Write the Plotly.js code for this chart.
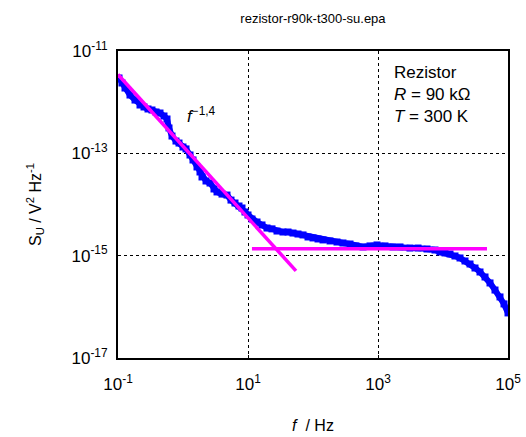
<!DOCTYPE html>
<html>
<head>
<meta charset="utf-8">
<script src="https://cdn.plot.ly/plotly-3.0.1.min.js"></script>
<style>html,body{margin:0;padding:0;background:#fff;}#chart{width:526px;height:437px;}</style>
</head>
<body>
<div id="chart"></div>
<script>
// Measured noise spectrum (frequency in Hz, S_U in V^2/Hz)
const freq = [0.1036,0.1152,0.1281,0.1530,0.1827,0.2181,0.2512,0.2894,0.3334,0.3842,
  0.4427,0.5101,0.5673,0.6089,0.6773,0.7802,0.8679,1.0,1.112,1.282,
  1.425,1.642,1.826,1.960,2.259,2.603,2.999,3.336,3.981,4.753,
  5.476,6.310,7.270,8.086,8.991,10.0,11.52,13.76,16.42,19.60,
  23.39,27.94,34.55,41.26,49.24,58.77,70.20,83.79,100,119.4,
  142.5,182.6,233.9,289.3,370.8,458.7,587.7,753.1,965.2,1281,
  1701,2180,3107,4125,5673,7531,8991,10735,12818,15297,
  18260,21800,26030,31070,37090,44290,52870,63100,75310,86800,100000];
const su = [2.97e-12,2.37e-12,1.89e-12,1.38e-12,1.10e-12,8.80e-13,8.05e-13,7.36e-13,7.03e-13,6.43e-13,
  6.14e-13,5.37e-13,4.69e-13,3.13e-13,2.18e-13,1.74e-13,1.59e-13,1.33e-13,1.22e-13,9.28e-14,
  7.41e-14,5.41e-14,4.32e-14,3.45e-14,2.88e-14,2.63e-14,2.01e-14,1.76e-14,1.60e-14,1.53e-14,
  1.22e-14,1.07e-14,9.35e-15,8.55e-15,7.14e-15,6.24e-15,5.21e-15,4.55e-15,3.98e-15,3.47e-15,
  3.34e-15,3.03e-15,2.90e-15,2.90e-15,2.77e-15,2.65e-15,2.54e-15,2.32e-15,2.22e-15,2.12e-15,
  2.03e-15,1.94e-15,1.85e-15,1.77e-15,1.69e-15,1.55e-15,1.48e-15,1.55e-15,1.62e-15,1.55e-15,
  1.48e-15,1.48e-15,1.41e-15,1.41e-15,1.35e-15,1.29e-15,1.18e-15,1.13e-15,1.08e-15,9.86e-16,
  9.01e-16,7.87e-16,6.88e-16,5.74e-16,4.80e-16,3.83e-16,2.93e-16,2.13e-16,1.56e-16,1.14e-16,7.60e-17];
// Fit lines
const fit1F = [0.1, 54.7];
const fit1S = [3.47e-12, 5.05e-16];
const fit2F = [11.5, 47500];
const fit2S = [1.36e-15, 1.36e-15];

const xTicks = [0.1, 10, 1000, 100000];
const yTicks = [1e-17, 1e-15, 1e-13, 1e-11];

const traces = [
  {x: freq, y: su, type: 'scatter', mode: 'lines+markers',
   line: {color: '#0000FF', width: 6},
   marker: {color: '#0000FF', symbol: 'square', size: 7},
   showlegend: false, hoverinfo: 'skip'},
  {x: fit1F, y: fit1S, type: 'scatter', mode: 'lines',
   line: {color: '#FF00FF', width: 3.5}, showlegend: false},
  {x: fit2F, y: fit2S, type: 'scatter', mode: 'lines',
   line: {color: '#FF00FF', width: 3.5}, showlegend: false}
];

const axisCommon = {
  type: 'log', showline: true, mirror: true, linecolor: '#000', linewidth: 2,
  ticks: 'inside', ticklen: 3, tickcolor: '#000', tickwidth: 1,
  showgrid: true, gridcolor: '#000', griddash: '3px,3px', gridwidth: 1,
  zeroline: false, exponentformat: 'power',
  tickfont: {family: 'Arial, Liberation Sans, sans-serif', size: 17, color: '#000'}
};

const layout = {
  width: 526, height: 437,
  margin: {l: 118, r: 18, t: 51, b: 79},
  paper_bgcolor: '#fff', plot_bgcolor: '#fff',
  font: {family: 'Arial, Liberation Sans, sans-serif', color: '#000'},
  title: {text: 'rezistor-r90k-t300-su.epa', font: {size: 13, color: '#000'},
          x: 0.595, xanchor: 'center', y: 0.958, yanchor: 'middle'},
  xaxis: Object.assign({}, axisCommon, {
    range: [-1, 5], tickmode: 'array', tickvals: xTicks, ticklabelstandoff: 10,
    ticktext: ['10<sup>-1</sup>', '10<sup>1</sup>', '10<sup>3</sup>', '10<sup>5</sup>'],
    title: {text: '<i>f</i>  / Hz', font: {size: 16}, standoff: 26}
  }),
  yaxis: Object.assign({}, axisCommon, {
    range: [-17, -11], tickmode: 'array', tickvals: yTicks, ticklabelstandoff: 5,
    ticktext: ['10<sup>-17</sup>', '10<sup>-15</sup>', '10<sup>-13</sup>', '10<sup>-11</sup>'],
    title: {text: 'S<sub>U</sub> / V<sup>2</sup> Hz<sup>-1</sup>', font: {size: 16}, standoff: 26}
  }),
  annotations: [
    {xref: 'paper', yref: 'paper', x: 0.213, y: 0.79, xanchor: 'center', yanchor: 'middle',
     text: '<i>f</i><sup>−1,4</sup>', showarrow: false, font: {size: 17, color: '#000'}},
    {xref: 'paper', yref: 'paper', x: 0.703, y: 0.968, xanchor: 'left', yanchor: 'top', align: 'left',
     text: 'Rezistor<br><i>R</i> = 90 kΩ<br><i>T</i> = 300 K', showarrow: false,
     font: {size: 17, color: '#000'}}
  ]
};

Plotly.newPlot('chart', traces, layout, {staticPlot: true, displayModeBar: false});
</script>
</body>
</html>
